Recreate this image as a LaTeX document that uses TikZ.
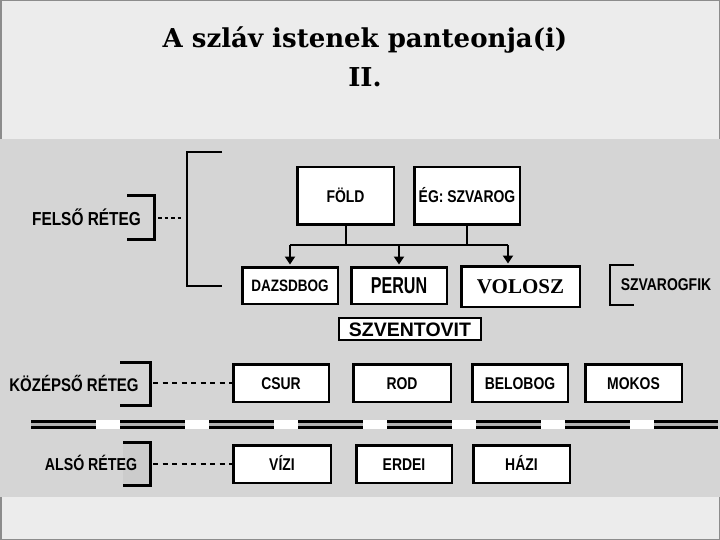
\documentclass[tikz,border=0pt]{standalone}
\usepackage{fontspec}
\usetikzlibrary{arrows.meta}
\newfontfamily\narrowsans[FakeStretch=0.82]{Liberation Sans}
\newfontfamily\perunsans[FakeStretch=0.70]{Liberation Sans}
\newfontfamily\titleserif{DejaVu Serif}
\newfontfamily\voloszserif{Liberation Serif}
\newfontfamily\plainsans{Liberation Sans}
\newcommand\fsz[1]{\fontsize{#1pt}{#1pt}\selectfont}
\definecolor{bandgray}{HTML}{D5D5D5}
\definecolor{paper}{HTML}{ECECEC}
\definecolor{framegray}{HTML}{8C8C8C}
\definecolor{smoothgray}{HTML}{CCCCCC}
\begin{document}
\begin{tikzpicture}[x=1pt,y=-1pt,
  godbox/.style={draw=black, line width=2.5pt, fill=white, inner sep=0pt, text depth=0pt},
  stdtext/.style={font=\narrowsans\bfseries\fsz{17}, text height=12.2pt},
  lbl/.style={inner sep=0pt, text depth=0pt, font=\narrowsans\bfseries\fsz{#1}},
  brk/.style={line width=3pt, line join=miter},
  conn/.style={line width=2pt},
  tip/.style={-{Triangle[width=10pt,length=8pt]}, shorten >=1.5pt},
  dotline/.style={line width=2pt, dash pattern=on 3.5pt off 3pt},
  dashline/.style={line width=1.4pt, dash pattern=on 5pt off 4.5pt}]
\useasboundingbox (0,0) rectangle (720,540);
% background
\fill[paper] (0,0) rectangle (720,540);
\draw[framegray, line width=1.5pt] (0.75,0.75) rectangle (719.25,539.25);
\fill[bandgray] (0,139) rectangle (720,497);
\fill[smoothgray] (123,442) rectangle (150,485);
% title
\node[font=\titleserif\bfseries\fsz{26}, anchor=base, inner sep=0pt] (title1) at (365,48) {A szláv istenek panteonja(i)};
\node[font=\titleserif\bfseries\fsz{26}, anchor=base, inner sep=0pt] (title2) at (365,87) {II.};
% upper boxes
\node[godbox, minimum width=96.5pt, minimum height=57.5pt, font=\narrowsans\bfseries\fsz{17}, text height=12.2pt] (fold) at (345.5,196) {FÖLD};
\node[godbox, stdtext, minimum width=105.5pt, minimum height=57.5pt] (eg) at (467,196) {ÉG: SZVAROG};
\node[godbox, stdtext, minimum width=95.5pt, minimum height=36.5pt, font=\narrowsans\bfseries\fsz{16.5}] (dazs) at (290,285.5) {DAZSDBOG};
\node[godbox, minimum width=95.5pt, minimum height=36.5pt, font=\perunsans\bfseries\fsz{23}, text height=16.5pt] (perun) at (399,285.5) {PERUN};
\node[godbox, minimum width=118.5pt, minimum height=40.5pt, font=\voloszserif\bfseries\fsz{21}, text height=14pt] (volosz) at (520.5,286.5) {VOLOSZ};
\node[godbox, line width=2pt, minimum width=142pt, minimum height=22pt, font=\plainsans\bfseries\fsz{19.5}, text height=14pt] (szvent) at (410,329) {SZVENTOVIT};
% connectors
\coordinate (bus) at (0,245);
\coordinate (vtap) at (508,245);
\draw[conn] (fold.south) -- (fold.south |- bus);
\draw[conn] (eg.south) -- (eg.south |- bus);
\draw[conn] (dazs.north |- bus) -- (vtap);
\draw[conn, tip] (dazs.north |- bus) -- (dazs.north);
\draw[conn, tip] (perun.north |- bus) -- (perun.north);
\draw[conn, tip] (vtap) -- (vtap |- volosz.north);
% upper layer label and brackets
\node[lbl=18.8, text height=13.5pt] (felso) at (86.5,219) {FELSŐ RÉTEG};
\draw[brk] (127,196) -- (154,196) -- (154,239) -- (127,239);
\coordinate (felsoB) at (154,218);
\draw[brk, line width=2.5pt] (222,152) -- (187,152) -- (187,286) -- (222,286);
\coordinate (bigB) at (187,218);
\draw[dotline] ([xshift=4pt]felsoB) -- ([xshift=-3pt]bigB);
\node[lbl=17, text height=12.2pt] (fik) at (666,284) {SZVAROGFIK};
\draw[brk, line width=2pt] (634,265) -- (610,265) -- (610,305) -- (634,305);
% middle layer
\node[godbox, stdtext, minimum width=95.5pt, minimum height=37.5pt] (csur) at (281,383) {CSUR};
\node[godbox, stdtext, minimum width=97.5pt, minimum height=37.5pt] (rod) at (402,383) {ROD};
\node[godbox, stdtext, minimum width=95.5pt, minimum height=37.5pt] (belobog) at (520,383) {BELOBOG};
\node[godbox, stdtext, minimum width=96.5pt, minimum height=37.5pt] (mokos) at (633.5,383) {MOKOS};
\node[lbl=18.3, text height=13.1pt] (kozep) at (74,385) {KÖZÉPSŐ RÉTEG};
\draw[brk] (120,362) -- (150,362) -- (150,405) -- (120,405);
\coordinate (kozepB) at (150,383);
\draw[dashline] ([xshift=3pt]kozepB) -- (csur.west);
% divider
\draw[white, line width=9pt] (31,424.5) -- (718,424.5);
\draw[black, line width=9pt, dash pattern=on 65pt off 24pt] (31,424.5) -- (718,424.5);
\draw[gray!60, line width=2.5pt, dash pattern=on 65pt off 24pt] (31,424.5) -- (718,424.5);
% lower layer
\node[godbox, stdtext, minimum width=97.5pt, minimum height=37.5pt] (vizi) at (282,464) {VÍZI};
\node[godbox, stdtext, minimum width=95.5pt, minimum height=37.5pt] (erdei) at (404,464) {ERDEI};
\node[godbox, stdtext, minimum width=96.5pt, minimum height=37.5pt] (hazi) at (521.5,464) {HÁZI};
\node[lbl=17.3, text height=12.4pt] (also) at (91,464) {ALSÓ RÉTEG};
\draw[brk] (123,442) -- (150,442) -- (150,485) -- (123,485);
\coordinate (alsoB) at (150,464);
\draw[dashline] ([xshift=3pt]alsoB) -- (vizi.west);
\end{tikzpicture}
\end{document}
